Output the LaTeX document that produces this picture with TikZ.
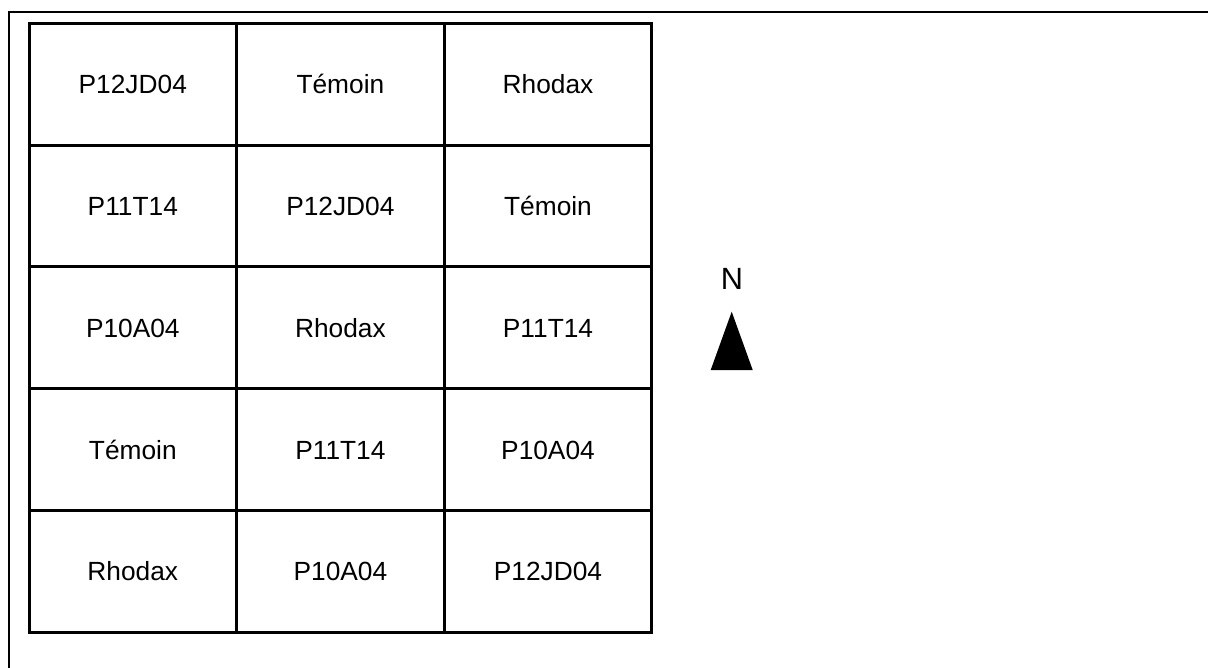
\documentclass[tikz,border=0pt]{standalone}
\usepackage{fontspec}
\setmainfont{Liberation Sans}
\begin{document}
\begin{tikzpicture}[x=1pt,y=-1pt,
  cell/.style={draw,line width=3pt,minimum width=207.6pt,minimum height=121.8pt,inner sep=0pt,outer sep=0pt,text height=18.8pt,text depth=0pt,font=\fontsize{26.3pt}{30pt}\selectfont},
  frame/.style={line width=2.2pt}]
\useasboundingbox (0,0) rectangle (1208,667);
\fill[white] (0,0) rectangle (1208,667);
\draw[frame] (9,680) -- (9,12) -- (1215,12);
\def\cw{207.6}
\def\ch{121.8}
\foreach \r/\a/\b/\c in {1/P12JD04/Témoin/Rhodax,2/P11T14/P12JD04/Témoin,3/P10A04/Rhodax/P11T14,4/Témoin/P11T14/P10A04,5/Rhodax/P10A04/P12JD04}{
  \node[cell] (c\r a) at ({29+0.5*\cw},{23.3+(\r-0.5)*\ch}) {\a};
  \node[cell] (c\r b) at ({29+1.5*\cw},{23.3+(\r-0.5)*\ch}) {\b};
  \node[cell] (c\r c) at ({29+2.5*\cw},{23.3+(\r-0.5)*\ch}) {\c};
}
\node[font=\fontsize{30.7pt}{34pt}\selectfont,inner sep=0pt,text height=22pt,text depth=0pt] (north) at (732,278.3) {N};
\fill (731.7,311.7) -- (752.7,370) -- (710.7,370) -- cycle;
\end{tikzpicture}
\end{document}
